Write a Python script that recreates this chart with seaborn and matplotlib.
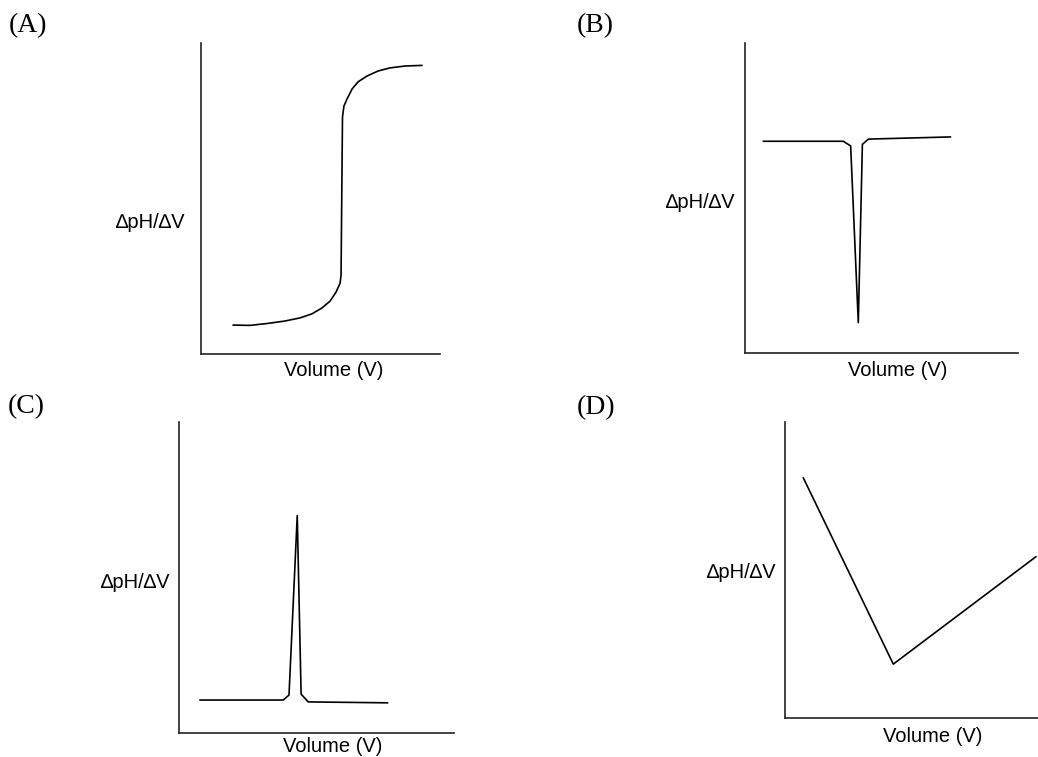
import matplotlib
matplotlib.use("Agg")
import matplotlib.pyplot as plt
import seaborn as sns

sns.set_theme(style="white")
plt.rcParams['font.family'] = ['Liberation Sans', 'DejaVu Sans']
plt.rcParams['text.color'] = 'black'

W, H = 1038, 757

# curve data (arbitrary units 0-100)
a_vol = [13.4, 20.5, 27.6, 35.1, 41.4, 46.4, 50.6, 54.0, 56.5, 58.2, 58.6,
         59.2, 59.8, 61.1, 63.2, 65.7, 69.5, 74.1, 79.1, 85.4, 92.5]
a_dph = [9.3, 9.2, 9.8, 10.6, 11.6, 12.9, 14.8, 17.0, 19.9, 22.8, 25.4,
         76.2, 79.7, 82.0, 85.2, 87.5, 89.4, 91.0, 92.0, 92.6, 92.8]

b_vol = [6.7, 36.0, 38.7, 41.5, 43.0, 45.2, 75.3]
b_dph = [68.3, 68.3, 66.8, 9.8, 67.3, 69.0, 69.7]

c_vol = [7.6, 37.9, 40.0, 43.0, 44.4, 47.0, 75.9]
c_dph = [10.6, 10.6, 12.2, 69.9, 12.5, 10.0, 9.7]

d_vol = [7.2, 42.8, 99.2]
d_dph = [81.2, 18.2, 54.5]

panels = ["(A)", "(B)", "(C)", "(D)"]
ylabel = "\u2206pH/\u2206V"
xlabel = "Volume (V)"

# pixel boxes: left, top, right, bottom
boxes = [(201, 43, 440, 354), (745, 43, 1018, 353),
         (179, 422, 454, 733), (785, 422, 1038, 718)]
letter_pos = [(9, 13), (577, 13), (8, 394), (577, 395)]
ylab_pos = [(151, 223), (701, 203), (136, 582), (742, 573)]
xlab_pos = [(334, 370), (898, 370), (333, 746), (933, 737)]
series = [(a_vol, a_dph), (b_vol, b_dph), (c_vol, c_dph), (d_vol, d_dph)]

fig = plt.figure(figsize=(W / 100, H / 100), dpi=100)

for i, (l, t, r, b) in enumerate(boxes):
    ax = fig.add_axes([l / W, 1 - b / H, (r - l) / W, (b - t) / H])
    xs, ys = series[i]
    sns.lineplot(x=xs, y=ys, ax=ax, sort=False, estimator=None,
                 color="black", linewidth=1.2)
    ax.set_xlim(0, 100)
    ax.set_ylim(0, 100)
    ax.set_xticks([])
    ax.set_yticks([])
    sns.despine(ax=ax)
    for s in ["left", "bottom"]:
        ax.spines[s].set_color("#222222")
        ax.spines[s].set_linewidth(1.2)

    lx, ly = letter_pos[i]
    fig.text(lx / W, 1 - ly / H, panels[i], ha="left", va="top",
             fontsize=20, family=["Liberation Serif", "DejaVu Serif"])
    yx, yy = ylab_pos[i]
    fig.text(yx / W, 1 - yy / H, ylabel, ha="center", va="center", fontsize=14.5)
    xx, xy = xlab_pos[i]
    fig.text(xx / W, 1 - xy / H, xlabel, ha="center", va="center", fontsize=14.5)

fig.savefig("out.png", dpi=100)
